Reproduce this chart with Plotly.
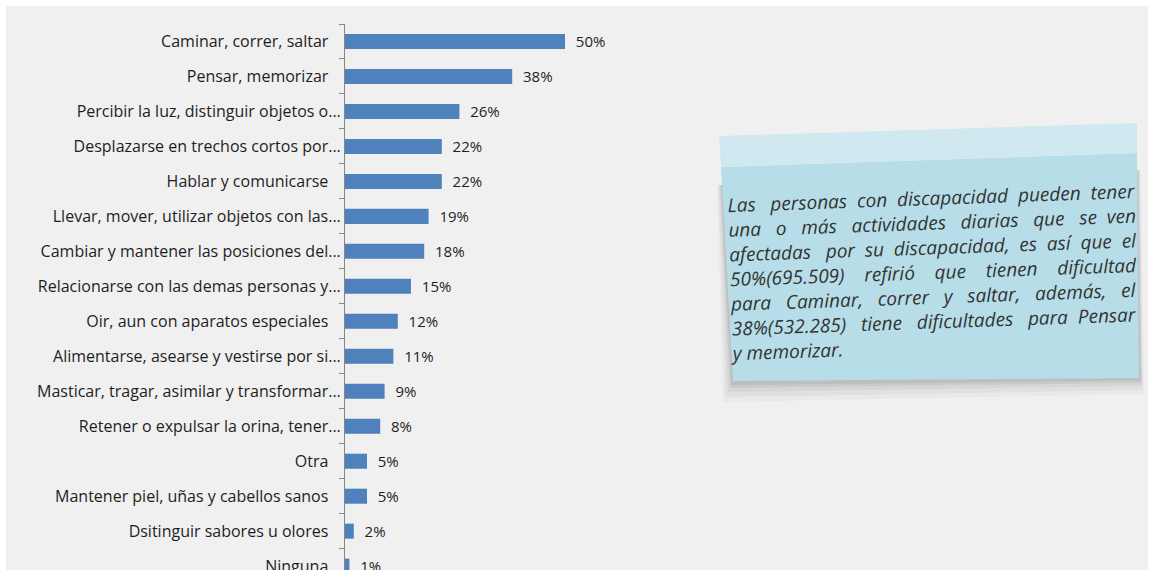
import plotly.graph_objects as go

# datos
categorias = [
    "Caminar, correr, saltar",
    "Pensar, memorizar",
    "Percibir la luz, distinguir objetos o...",
    "Desplazarse en trechos cortos por...",
    "Hablar y comunicarse",
    "Llevar, mover, utilizar objetos con las...",
    "Cambiar y mantener las posiciones del...",
    "Relacionarse con las demas personas y...",
    "Oir, aun con aparatos especiales",
    "Alimentarse, asearse y vestirse por si...",
    "Masticar, tragar, asimilar y transformar...",
    "Retener o expulsar la orina, tener...",
    "Otra",
    "Mantener piel, uñas y cabellos sanos",
    "Dsitinguir sabores u olores",
    "Ninguna",
]
porcentajes = [50, 38, 26, 22, 22, 19, 18, 15, 12, 11, 9, 8, 5, 5, 2, 1]
# etiquetas completas (sin "...") llevan un espacio final en el original
completas = [not c.endswith("...") for c in categorias]

nota_lineas = [
    "Las personas con discapacidad pueden tener",
    "una o más actividades diarias que se ven",
    "afectadas por su discapacidad, es así que el",
    "50%(695.509) refirió que tienen dificultad",
    "para Caminar, correr y saltar, además, el",
    "38%(532.285) tiene dificultades para Pensar",
    "y memorizar.",
]

W, H = 1152, 570
ML, MR, MT, MB = 345, 0, 24, 0
FUENTE = "Open Sans"


def pp(x, y):
    # pixel -> paper
    return (x - ML) / (W - ML - MR), (H - MB - y) / (H - MT - MB)


def path(pts):
    s = ""
    for i, (x, y) in enumerate(pts):
        a, b = pp(x, y)
        s += ("M" if i == 0 else "L") + f"{a:.5f},{b:.5f} "
    return s + "Z"


def justificar(linea, extra):
    # reparte 'extra' espacios entre los huecos para imitar el texto justificado
    palabras = linea.split(" ")
    huecos = len(palabras) - 1
    out = palabras[0]
    for i, p in enumerate(palabras[1:]):
        n = 1 + extra // huecos + (1 if i < extra % huecos else 0)
        out += " " * n + p
    return out


extras = [6, 13, 8, 12, 12, 7, 0]
nota = "<br>".join(justificar(l, e) for l, e in zip(nota_lineas, extras))

etiquetas = [c + ("\u00a0\u00a0\u00a0" if f else "") for c, f in zip(categorias, completas)]

fig = go.Figure()
fig.add_trace(go.Bar(
    x=porcentajes,
    y=etiquetas,
    orientation="h",
    width=0.43,
    marker=dict(color="#4f81bd", line=dict(width=0)),
    text=[f"  {v}%" for v in porcentajes],
    textposition="outside",
    constraintext="none",
    cliponaxis=False,
    textfont=dict(family=FUENTE, size=15, color="#1e1e1e"),
    hoverinfo="skip",
))

shapes = []
# fondo gris
x0, y0 = pp(6, 6)
x1, y1 = pp(1148, 575)
shapes.append(dict(type="rect", xref="paper", yref="paper", x0=x0, y0=y1, x1=x1, y1=y0,
                   fillcolor="#f0f0f0", line_width=0, layer="below"))
# sombra de la nota
for d, op in [(20, 0.035), (15, 0.045), (10, 0.055), (6, 0.065), (3, 0.08)]:
    shapes.append(dict(type="path", xref="paper", yref="paper",
                       path=path([(722 - d / 4, 185), (1137 + d / 5, 170), (1140 + d / 5, 378 + d * 0.8),
                                  (733 - d / 2, 382 + d)]),
                       fillcolor=f"rgba(50,50,50,{op})", line_width=0, layer="below"))
# cuerpo de la nota
shapes.append(dict(type="path", xref="paper", yref="paper",
                   path=path([(721, 167), (1137, 153), (1139, 378), (733, 381)]),
                   fillcolor="#b7dde8", line_width=0, layer="below"))
# franja superior
shapes.append(dict(type="path", xref="paper", yref="paper",
                   path=path([(719, 136), (1137, 123), (1137, 153), (721, 167)]),
                   fillcolor="#d0e8ef", line_width=0, layer="below"))

cx, cy = pp(933, 272)
fig.add_annotation(
    x=cx, y=cy, xref="paper", yref="paper",
    text=nota, showarrow=False, align="left",
    xanchor="center", yanchor="middle", textangle=-2,
    font=dict(family=FUENTE, size=19, color="#333333", style="italic"),
)

fig.update_layout(
    width=W, height=H,
    margin=dict(l=ML, r=MR, t=MT, b=MB, pad=0, autoexpand=False),
    paper_bgcolor="white",
    plot_bgcolor="rgba(0,0,0,0)",
    showlegend=False,
    shapes=shapes,
    xaxis=dict(range=[0, 60], domain=[0, 60 * 4.4 / (W - ML - MR)], visible=False,
               showgrid=False, zeroline=False, automargin=False),
    yaxis=dict(
        type="category",
        categoryorder="array",
        categoryarray=etiquetas,
        range=[15.11, -0.5],
        automargin=False,
        showline=True, linecolor="#868686", linewidth=1,
        ticks="outside", ticklen=5, tickcolor="#868686",
        tickson="boundaries",
        showgrid=False, zeroline=False,
        tickfont=dict(family=FUENTE, size=16, color="#1e1e1e"),
    ),
)

fig.write_html("out.html", config={"displayModeBar": False},
               post_script="document.body.style.margin='0';")
